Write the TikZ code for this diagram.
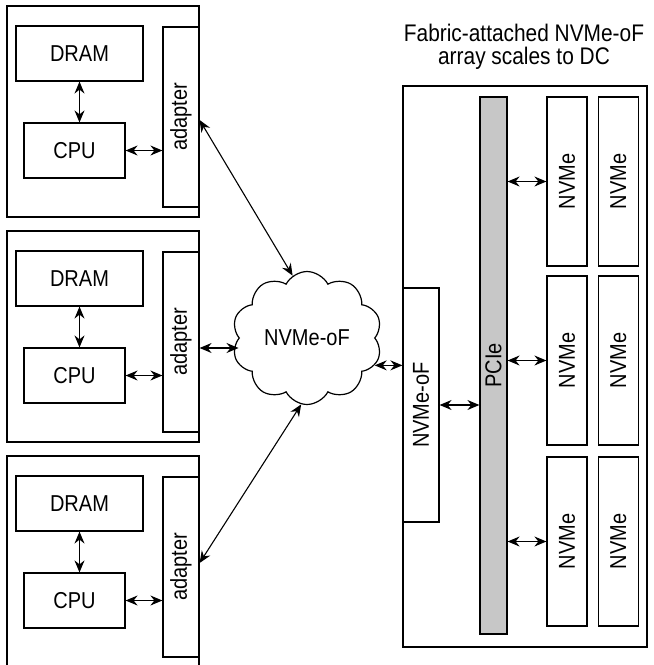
\documentclass[tikz,border=0pt]{standalone}
\usepackage{graphicx}
\usepackage{fontspec}
\setmainfont{Liberation Sans}[FakeStretch=0.87]
\usetikzlibrary{shapes.symbols, arrows.meta, positioning}
\tikzstyle{link} = [line width=1.1pt,<->,>={Stealth[length=12pt,width=10pt,inset=4pt]}]
\tikzstyle{box} = [draw=black, line width=1.2pt, inner sep=0pt, font=\fontsize{23}{27}\selectfont]

\begin{document}
\begin{tikzpicture}[x=1pt, y=-1pt]
	\useasboundingbox (0,0) rectangle (654,665);
	\clip (0,0) rectangle (654,665);
	\foreach \i/\t in {1/6, 2/231, 3/456} {
		\node (host\i) [box, minimum width=192pt, minimum height=211pt] at (103,\t+105.5) {};
		\node (dram\i) [box, minimum width=127pt, minimum height=55pt] at (79.5,\t+47.5) {DRAM};
		\node (cpu\i) [box, minimum width=101pt, minimum height=55pt] at (74.5,\t+144.5) {CPU};
		\node (adapter\i) [box, minimum width=36pt, minimum height=180pt] at (181,\t+111) {\rotatebox{90}{adapter}};
		\draw [link] (dram\i.south) -- (dram\i.south |- cpu\i.north);
		\draw [link] (cpu\i.east) -- (cpu\i.east -| adapter\i.west);
	}
	\node (fabric) [cloud, draw, line width=1.2pt, cloud puffs=10, cloud puff arc=125, aspect=1.15, minimum width=150pt, minimum height=133pt, inner sep=0pt, font=\fontsize{23}{27}\selectfont] at (307,338) {NVMe-oF};
	\draw [link] ([yshift=-3pt]adapter1.east) -- (fabric.103);
	\draw [link] ([yshift=-6pt]adapter2.east) -- ([yshift=-6pt]adapter2.east -| fabric.west);
	\draw [link] ([yshift=4pt]adapter3.east) -- (fabric.265);

	\node (array) [box, minimum width=244pt, minimum height=561pt] at (525,366.5) {};
	\node (title) [align=center, inner sep=0pt, font=\fontsize{24}{23}\selectfont] at (524,47) {Fabric-attached NVMe-oF\\array scales to DC};
	\node (nvmeof) [box, minimum width=36pt, minimum height=234pt] at (421,405) {\rotatebox{90}{NVMe-oF}};
	\node (pcie) [box, fill=black!22, minimum width=27pt, minimum height=537pt] at (493.5,365.5) {\rotatebox{90}{PCIe}};
	\draw [link] (fabric.338) -- (fabric.338 -| nvmeof.west);
	\draw [link] (nvmeof.east) -- (nvmeof.east -| pcie.west);
	\foreach \r/\y in {1/181.5, 2/360.5, 3/541.5} {
		\node (nvmeA\r) [box, minimum width=40pt, minimum height=169pt] at (567,\y) {\rotatebox{90}{NVMe}};
		\node (nvmeB\r) [box, minimum width=40pt, minimum height=169pt, right=10pt of nvmeA\r] {\rotatebox{90}{NVMe}};
		\draw [link] (pcie.east |- nvmeA\r.west) -- (nvmeA\r.west);
	}
\end{tikzpicture}
\end{document}
